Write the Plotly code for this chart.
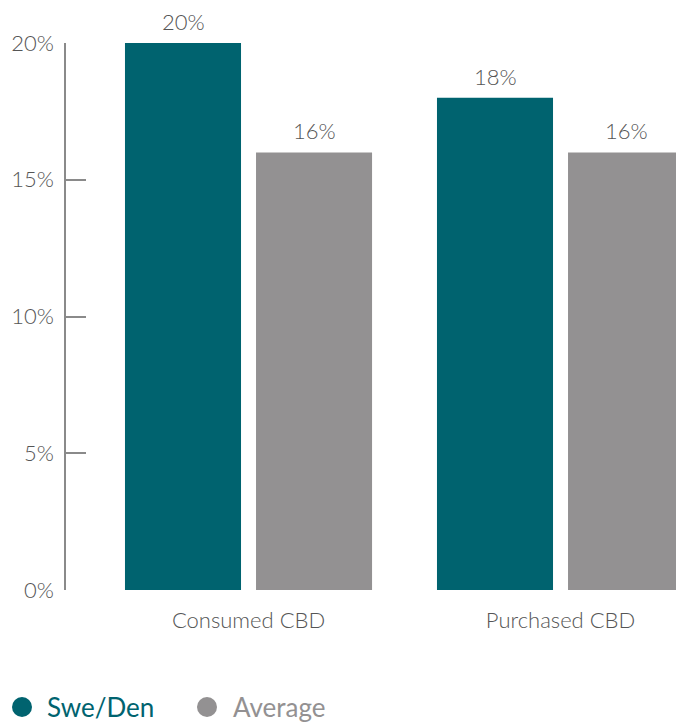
import plotly.graph_objects as go

categories = ["Consumed CBD", "Purchased CBD"]
swe_den = [20, 18]
average = [16, 16]
series_names = ["Swe/Den", "Average"]
tick_vals = [0, 5, 10, 15, 20]
tick_text = ["0%", "5%", "10%", "15%", "20%"]

TEAL = "#00636F"
GRAY = "#939192"
TXT = "#555555"
FONT = "Lato, 'Open Sans', sans-serif"
BARGAP = 0.16
GROUPGAP = 0.1145

W, H = 676, 722
ML, MT, MB, MR = 66, 43, H - 590, 0
PW = W - ML - MR
PH = H - MT - MB


def px_x(sx):
    return (sx - ML) / PW


def px_y(sy):
    return (590 - sy) / PH


fig = go.Figure()
series = [(series_names[0], swe_den, TEAL), (series_names[1], average, GRAY)]
for name, vals, col in series:
    fig.add_trace(go.Bar(
        x=categories, y=vals, name=name, marker_color=col, marker_line_width=0,
        showlegend=False,
    ))

# value labels above bars
half = (1 - BARGAP) / 4
for si, (name, vals, col) in enumerate(series):
    off = -half if si == 0 else half
    for ci, v in enumerate(vals):
        fig.add_annotation(x=ci + off, y=v, xref="x", yref="y", text=f"{v}%",
                           showarrow=False, yanchor="bottom", yshift=6,
                           font=dict(size=22, color=TXT, family=FONT, weight=300))

# legend (circles + coloured labels)
for name, col, cx, tx in [(series_names[0], TEAL, 12, 45), (series_names[1], GRAY, 197, 231)]:
    fig.add_shape(type="circle", xref="paper", yref="paper",
                  x0=px_x(cx), x1=px_x(cx + 20),
                  y0=px_y(717), y1=px_y(697),
                  fillcolor=col, line_width=0, layer="above")
    fig.add_annotation(xref="paper", yref="paper", x=px_x(tx), y=px_y(707),
                       xanchor="left", yanchor="middle", showarrow=False, text=name,
                       font=dict(size=26, color=col, family=FONT, weight=400))

fig.update_layout(
    width=W, height=H,
    margin=dict(l=ML, r=MR, t=MT, b=MB),
    paper_bgcolor="white", plot_bgcolor="white",
    barmode="group", bargap=BARGAP, bargroupgap=GROUPGAP,
    font=dict(family=FONT, color=TXT),
    showlegend=False,
    xaxis=dict(range=[-0.585, -0.585 + PW / 312], showline=False, showgrid=False,
               zeroline=False, ticks="", tickfont=dict(size=22, color=TXT, weight=300),
               ticklabelstandoff=15, fixedrange=True, automargin=False),
    yaxis=dict(range=[0, 20], tickvals=tick_vals, ticktext=tick_text, showline=True,
               linecolor="#8a8a8a", linewidth=1.5, ticks="inside", ticklen=20,
               tickcolor="#8a8a8a", tickwidth=1.5, showgrid=False, zeroline=False,
               tickfont=dict(size=22, color=TXT, weight=300), ticklabelstandoff=6,
               automargin=False),
)

fig.write_html(
    "out.html",
    config={"displayModeBar": False},
    post_script="document.body.style.margin='0';document.body.style.overflow='hidden';",
)
